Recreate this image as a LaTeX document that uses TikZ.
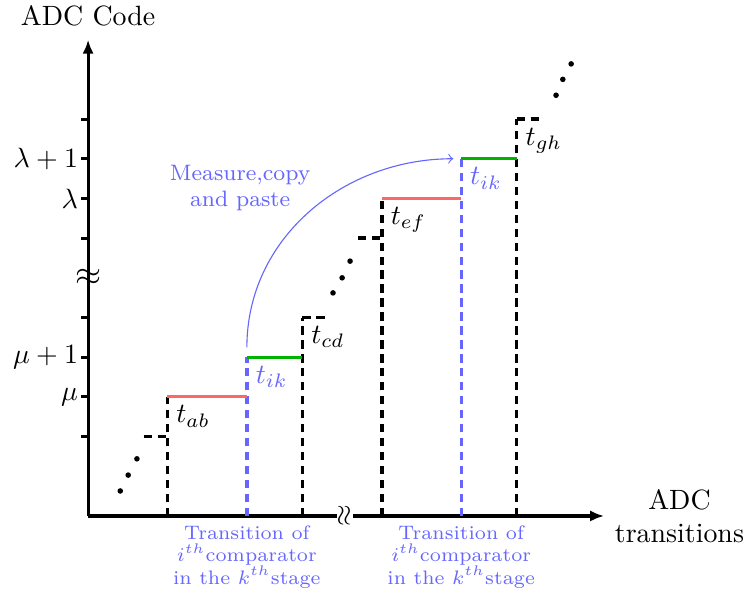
\documentclass[tikz,border=0pt]{standalone}
\usepackage{amsmath,amssymb}
\usepackage{xcolor}
\usetikzlibrary{arrows.meta, positioning, calc}
\tikzset{
  axisline/.style={line width=1.1pt, -{Latex[length=5pt, width=4pt]}},
  tickmark/.style={line width=1.1pt},
  stepline/.style={line width=1.2pt, dash pattern=on 3pt off 2pt},
  transline/.style={line width=1.2pt, dash pattern=on 3pt off 2pt, blue!60},
  lowcode/.style={line width=1.1pt, red!60},
  highcode/.style={line width=1.1pt, green!70!black},
  steplabel/.style={below right, inner sep=3pt},
  levellabel/.style={left, inner sep=1pt},
  translabel/.style={anchor=north, align=center, text=blue!60, font=\scriptsize},
}

\begin{document}
\begin{tikzpicture}[x=0.5cm, y=0.5cm, >=to]
  \useasboundingbox (-2.22,-1.91) rectangle (16.5,13.0);

  % Axes
  \coordinate (O) at (0,0);
  \coordinate (ytop) at (0,12);
  \coordinate (xend) at (13,0);
  \draw[axisline] (O) -- (ytop) node[above=0.4mm] (ylab) {ADC Code};
  \draw[axisline] (O) -- (xend) node[right, align=center] (xlab) {ADC\\transitions};

  % Ticks on the code axis
  \foreach \lvl in {2,3,4,5,7,8,9,10} {
    \draw[tickmark] (0,\lvl) -- (-0.17,\lvl) coordinate (tk\lvl);
  }
  \node[levellabel] (lmu) at (tk3) {$\mu$};
  \node[levellabel] (lmup) at (tk4) {$\mu+1$};
  \node[levellabel] (llam) at (tk8) {$\lambda$};
  \node[levellabel] (llamp) at (tk9) {$\lambda+1$};

  % Axis breaks
  \node[inner sep=0pt, font=\large] (ybreak) at (0,6) {$\approx$};
  \node[fill=white, rotate=90, inner sep=0.6pt] (xbreak) at (6.47,0) {$\approx$};

  % Transition points (x position / code level)
  \coordinate (ab) at (2,3);
  \coordinate (ik1) at (4,4);
  \coordinate (cd) at (5.4,5);
  \coordinate (ef) at (7.4,8);
  \coordinate (ik2) at (9.4,9);
  \coordinate (gh) at (10.8,10);

  % Risers
  \foreach \p in {ab,cd,ef,gh} { \draw[stepline] (\p |- O) -- (\p); }
  \foreach \p in {ik1,ik2} { \draw[transline] (\p |- O) -- (\p); }

  % Neighbouring code steps
  \draw[stepline] ($(ab)+(-0.6,-1)$) -- ($(ab)+(0,-1)$);
  \draw[stepline] (cd) -- ++(0.6,0);
  \draw[stepline] ($(ef)+(-0.6,-1)$) -- ($(ef)+(0,-1)$);
  \draw[stepline] (gh) -- ++(0.6,0);

  % Code widths
  \draw[lowcode] (ab) -- (ab -| ik1);
  \draw[highcode] (ik1) -- (ik1 -| cd);
  \draw[lowcode] (ef) -- (ef -| ik2);
  \draw[highcode] (ik2) -- (ik2 -| gh);

  % Transition labels
  \node[steplabel] (tab) at (ab) {$t_{ab}$};
  \node[steplabel, text=blue!60] (tik1) at (ik1) {$t_{ik}$};
  \node[steplabel] (tcd) at (cd) {$t_{cd}$};
  \node[steplabel] (tef) at (ef) {$t_{ef}$};
  \node[steplabel, text=blue!60] (tik2) at (ik2) {$t_{ik}$};
  \node[steplabel] (tgh) at (gh) {$t_{gh}$};

  % Dots
  \foreach \x/\y in {0.81/0.63, 1.01/1.03, 1.23/1.44, 6.17/5.62, 6.40/6.0, 6.6/6.42, 11.79/10.6, 11.96/11.0, 12.17/11.39} {
    \fill (\x,\y) circle (1pt);
  }

  % Copy arrow
  \coordinate (src) at (4,4.25);
  \coordinate (dst) at (9.2,9);
  \draw[->, blue!60] (src) to[out=90, in=180] (dst);
  \node[font=\footnotesize, text=blue!60, align=center] (mcp) at (3.83,8.26) {Measure,copy\\and paste};

  % Comparator notes
  \node[translabel] (tr1) at (ik1 |- O) {Transition of\\$i^{th}$comparator\\in the $k^{th}$stage};
  \node[translabel] (tr2) at (ik2 |- O) {Transition of\\$i^{th}$comparator\\in the $k^{th}$stage};
\end{tikzpicture}
\end{document}
